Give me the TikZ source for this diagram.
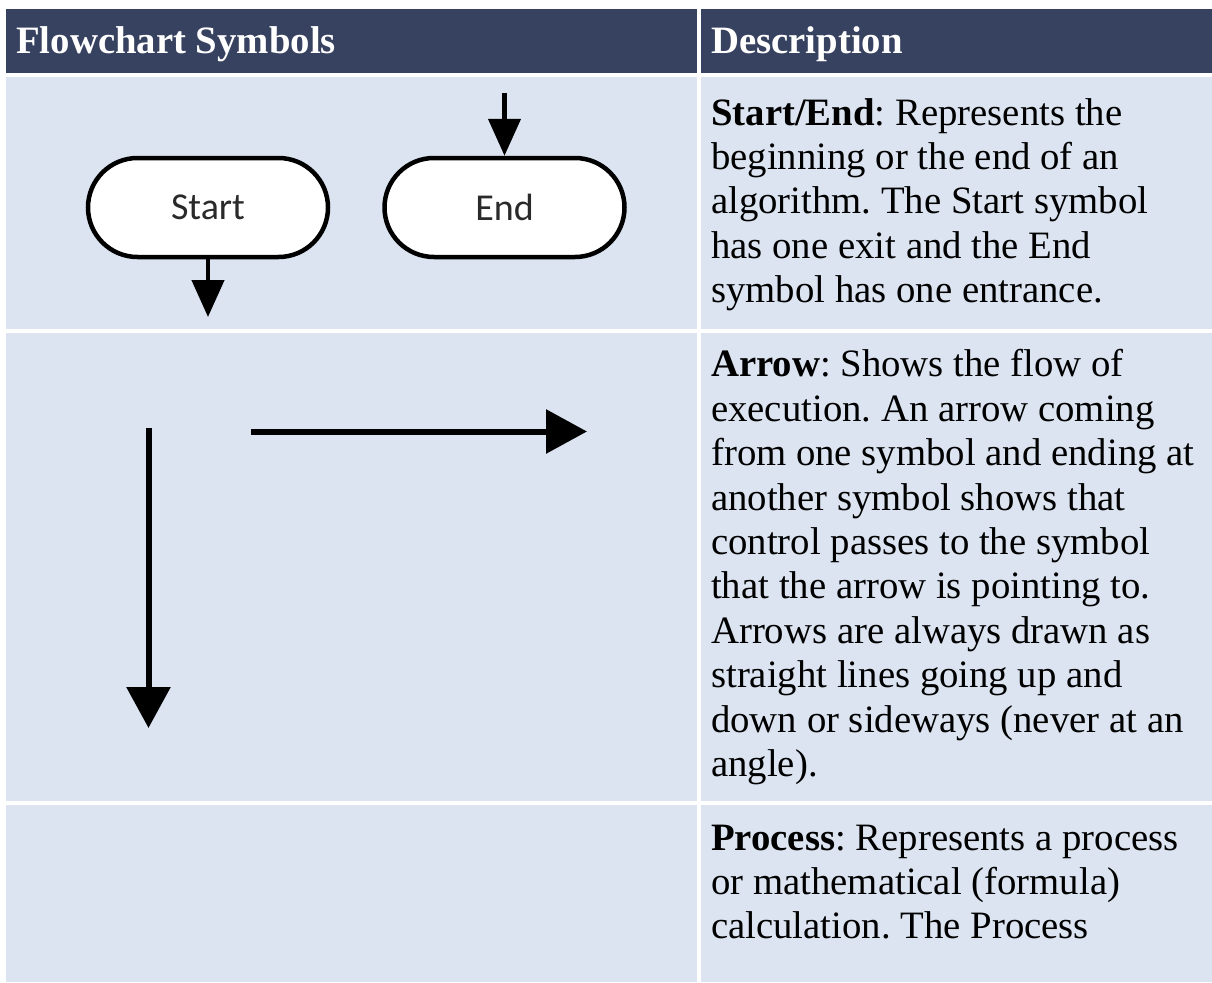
\documentclass[tikz,border=0pt]{standalone}
\usepackage{fontspec}
\setmainfont{Liberation Serif}
\newfontfamily\symbolfont{Carlito}
\usetikzlibrary{arrows.meta,shapes.misc}
\definecolor{headbg}{RGB}{55,65,96}
\definecolor{cellbg}{RGB}{219,228,240}
\definecolor{labelgray}{RGB}{42,42,42}

\begin{document}
\frenchspacing
\begin{tikzpicture}[x=1pt,y=-1pt,
  headcell/.style={fill=headbg,draw=none},
  bodycell/.style={fill=cellbg,draw=none},
  headtext/.style={anchor=base west,inner sep=0pt,text=white,
    font=\fontsize{38.75pt}{44.4pt}\selectfont\bfseries},
  desc/.style={anchor=base west,inner sep=0pt,text=black,
    font=\fontsize{38.75pt}{44.4pt}\selectfont},
  term/.style={rounded rectangle,draw=black,line width=4.5pt,fill=white,
    minimum width=240pt,minimum height=99pt,inner sep=0pt,text=labelgray,
    font=\symbolfont\fontsize{38pt}{44pt}\selectfont},
  flow/.style={line width=4.5pt,-{Triangle[width=32pt,length=37pt]}},
  bigflow/.style={line width=6pt,-{Triangle[width=43pt,length=41pt]}},
]
% page
\useasboundingbox (0,0) rectangle (1212,982);
\fill[white] (0,0) rectangle (1212,982);

% table cells
\path[headcell] (5.5,9) rectangle (697,73);
\path[headcell] (701,9) rectangle (1212,73);
\path[bodycell] (5.5,77) rectangle (697,329);
\path[bodycell] (701,77) rectangle (1212,329);
\path[bodycell] (5.5,333) rectangle (697,801);
\path[bodycell] (701,333) rectangle (1212,801);
\path[bodycell] (5.5,805) rectangle (697,982);
\path[bodycell] (701,805) rectangle (1212,982);

% header
\node[headtext] (h1) at (16,53) {Flowchart Symbols};
\node[headtext] (h2) at (711,53) {Description};

% row 1: terminators
\node[term] (start) at (208,207.5) {Start};
\node[term] (end) at (504.5,207.5) {End};
\coordinate (startout) at (208,317);
\coordinate (endin) at (504.5,93);
\draw[flow] (start.south) -- (startout);
\draw[flow] (endin) -- (end.north);

\node[desc] (d1a) at (711,125) {\textbf{Start/End}: Represents the};
\node[desc] (d1b) at (711,169.4) {beginning or the end of an};
\node[desc] (d1c) at (711,213.8) {algorithm. The Start symbol};
\node[desc] (d1d) at (711,258.2) {has one exit and the End};
\node[desc] (d1e) at (711,302.6) {symbol has one entrance.};

% row 2: arrows
\coordinate (vtop) at (148.5,428);
\coordinate (vbot) at (148.5,728);
\coordinate (hleft) at (251,431.5);
\coordinate (hright) at (587,431.5);
\draw[bigflow] (vtop) -- (vbot);
\draw[bigflow] (hleft) -- (hright);

\node[desc] (d2a) at (711,376.8) {\textbf{Arrow}: Shows the flow of};
\node[desc] (d2b) at (711,421.2) {execution. An arrow coming};
\node[desc] (d2c) at (711,465.6) {from one symbol and ending at};
\node[desc] (d2d) at (711,510) {another symbol shows that};
\node[desc] (d2e) at (711,554.4) {control passes to the symbol};
\node[desc] (d2f) at (711,598.8) {that the arrow is pointing to.};
\node[desc] (d2g) at (711,643.2) {Arrows are always drawn as};
\node[desc] (d2h) at (711,687.6) {straight lines going up and};
\node[desc] (d2i) at (711,732) {down or sideways (never at an};
\node[desc] (d2j) at (711,776.4) {angle).};

% row 3: process
\node[desc] (d3a) at (711,850) {\textbf{Process}: Represents a process};
\node[desc] (d3b) at (711,894.4) {or mathematical (formula)};
\node[desc] (d3c) at (711,938.8) {calculation. The Process};
\end{tikzpicture}
\end{document}
